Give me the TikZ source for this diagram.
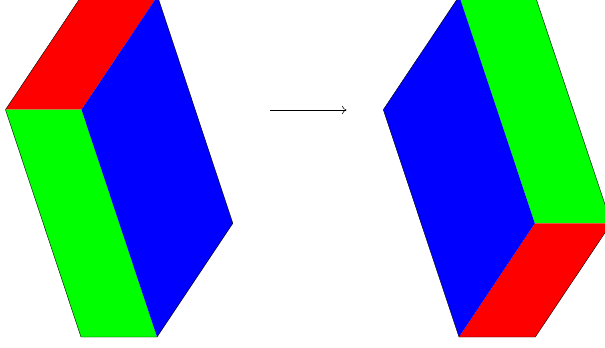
\documentclass[tikz,border=0pt]{standalone}
\usetikzlibrary{arrows.meta}
\tikzset{
  face/.style={draw=none},
  outline/.style={draw=black,line width=0.3pt,line join=round},
  mapsarrow/.style={draw=black,line width=0.4pt,-{To[length=3.4pt,width=6.4pt]}}
}
\begin{document}
\begin{tikzpicture}[x=0.75pt,y=-0.75pt]
\useasboundingbox (0,0) rectangle (605,347);
\clip (0,0) rectangle (605,347);
% left solid
\coordinate (la) at (5.5,109.7);
\coordinate (lb) at (81.5,109.7);
\coordinate (lc) at (157.5,-4);
\coordinate (ld) at (81.5,-4);
\coordinate (le) at (232.8,223.3);
\coordinate (lf) at (157,337);
\coordinate (lg) at (81,337);
\fill[face,red] (la) -- (lb) -- (lc) -- (ld) -- cycle;
\fill[face,green] (la) -- (lb) -- (lf) -- (lg) -- cycle;
\fill[face,blue] (lb) -- (lc) -- (le) -- (lf) -- cycle;
\draw[outline] (ld) -- (la) -- (lg) -- (lf) -- (le) -- (lc);
% arrow
\coordinate (s) at (270,110);
\coordinate (t) at (346.5,110);
\draw[mapsarrow] (s) -- (t);
% right solid
\coordinate (ra) at (383.3,109.7);
\coordinate (rb) at (459.2,-4);
\coordinate (rc) at (534.8,223.3);
\coordinate (rd) at (459,337);
\coordinate (re) at (535.2,-4);
\coordinate (rf) at (611.3,223.3);
\coordinate (rg) at (535.3,337);
\fill[face,green] (rb) -- (re) -- (rf) -- (rc) -- cycle;
\fill[face,red] (rc) -- (rf) -- (rg) -- (rd) -- cycle;
\fill[face,blue] (ra) -- (rb) -- (rc) -- (rd) -- cycle;
\draw[outline] (rb) -- (ra) -- (rd) -- (rg) -- (rf) -- (re);
\end{tikzpicture}
\end{document}
